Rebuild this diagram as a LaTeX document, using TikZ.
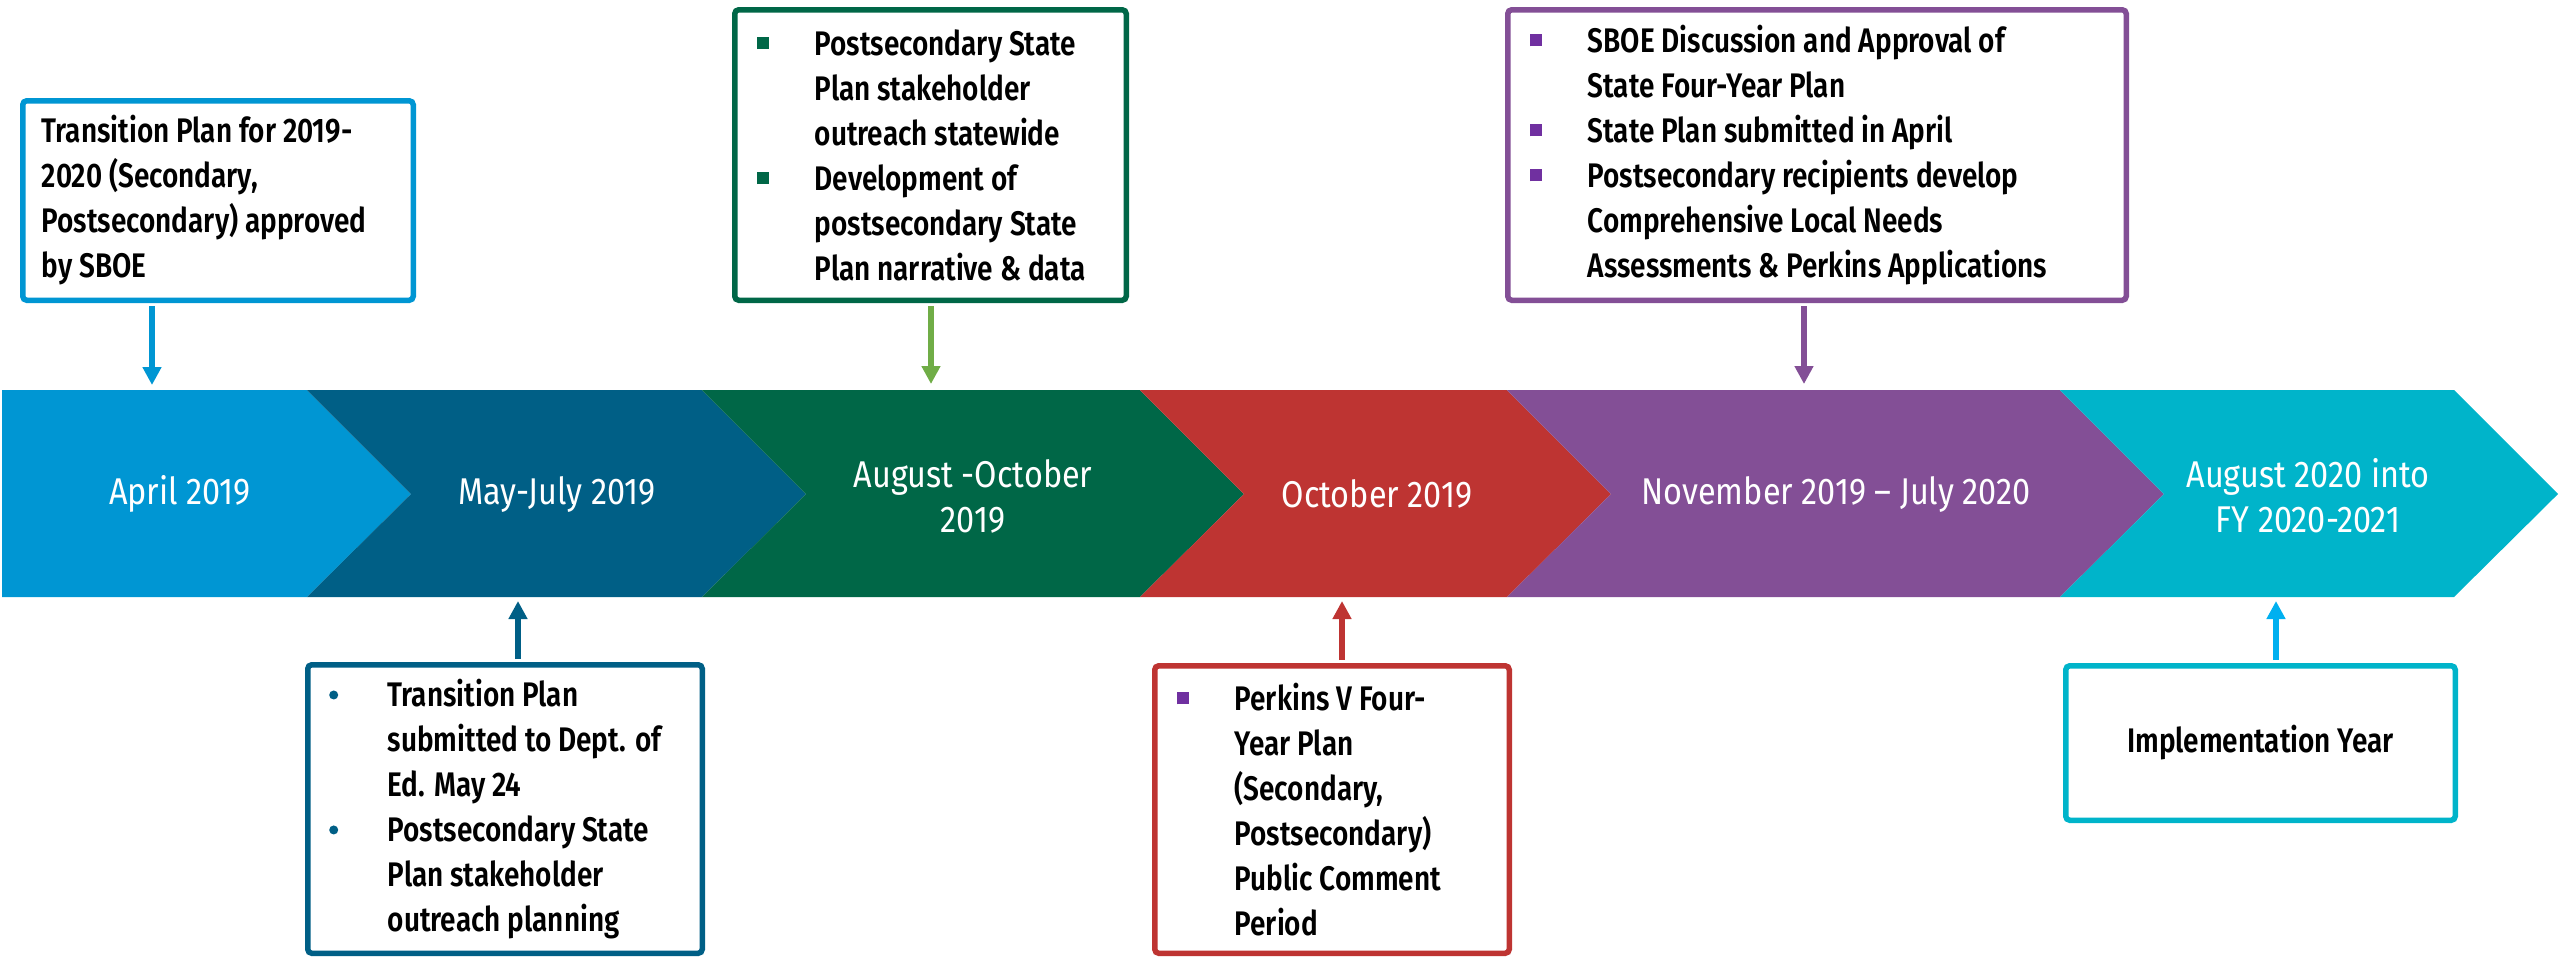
\documentclass[tikz,border=0pt]{standalone}
\usepackage{fontspec}
\setmainfont{Fira Sans}[FakeStretch=0.87]
\newfontfamily\boxfont{Fira Sans SemiBold}[FakeStretch=0.82]
\usetikzlibrary{arrows.meta}

\definecolor{aprblue}{RGB}{0,150,211}
\definecolor{mayblue}{RGB}{0,95,134}
\definecolor{auggreen}{RGB}{0,103,71}
\definecolor{octred}{RGB}{190,52,50}
\definecolor{novpurple}{RGB}{131,79,150}
\definecolor{fycyan}{RGB}{0,180,202}
\definecolor{leafgreen}{RGB}{112,173,71}
\definecolor{skyblue}{RGB}{0,176,240}
\definecolor{bulpurple}{RGB}{112,48,160}

\tikzset{
  phase/.style={text=white, align=center, font=\fontsize{10.6}{12.8}\selectfont},
  frame/.style={draw=#1, line width=0.55mm, rounded corners=0.4mm, fill=white},
  note/.style={anchor=west, align=left, inner sep=0pt, font=\boxfont\fontsize{9.7}{12.8}\selectfont},
  link/.style={draw=#1, line width=0.6mm, shorten <=0.3mm, -{Triangle[width=1.8mm,length=1.8mm]}}
}
\newcommand{\sqbul}[1]{\llap{\textcolor{#1}{\rule[0.6mm]{1.2mm}{1.2mm}}\hspace{4.6mm}}}
\newcommand{\dotbul}[1]{\llap{\tikz[baseline=0pt]\fill[#1] (0,1.15mm) circle (0.45mm);\hspace{4.95mm}}}

\begin{document}
\begin{tikzpicture}[x=0.1mm, y=-0.1mm]
    \useasboundingbox (0,0) rectangle (2560,959);
    % timeline band
    \fill[aprblue] (2,390) -- (307,390) -- (411,494) -- (307,597) -- (2,597) -- cycle;
    \fill[mayblue] (307,390) -- (702,390) -- (806,494) -- (702,597) -- (307,597) -- (411,494) -- cycle;
    \fill[auggreen] (702,390) -- (1140,390) -- (1244,494) -- (1140,597) -- (702,597) -- (806,494) -- cycle;
    \fill[octred] (1140,390) -- (1507,390) -- (1611,494) -- (1507,597) -- (1140,597) -- (1244,494) -- cycle;
    \fill[novpurple] (1507,390) -- (2060,390) -- (2164,494) -- (2060,597) -- (1507,597) -- (1611,494) -- cycle;
    \fill[fycyan] (2060,390) -- (2454,390) -- (2558,494) -- (2454,597) -- (2060,597) -- (2164,494) -- cycle;

    \node[phase] (apr) at (180,494) {April 2019};
    \node[phase] (may) at (557,494) {May-July 2019};
    \node[phase] (aug) at (973,496) {August -October\\2019};
    \node[phase] (oct) at (1377,494) {October 2019};
    \node[phase] (nov) at (1836,494) {November 2019 – July 2020};
    \node[phase] (fy) at (2308,496) {August 2020 into\\FY 2020-2021};

    % boxes above
    \node[frame=aprblue, minimum width=39.05mm, minimum height=19.95mm] (b1) at (218,200.5) {};
    \node[frame=auggreen, minimum width=39.15mm, minimum height=29.05mm] (b2) at (930.5,155) {};
    \node[frame=novpurple, minimum width=61.85mm, minimum height=29.05mm] (b3) at (1817,155) {};
    % boxes below
    \node[frame=mayblue, minimum width=39.45mm, minimum height=28.85mm] (b4) at (505,809) {};
    \node[frame=octred, minimum width=35.45mm, minimum height=28.75mm] (b5) at (1332,809.5) {};
    \node[frame=fycyan, minimum width=38.95mm, minimum height=15.45mm,
          font=\boxfont\fontsize{9.7}{12.8}\selectfont] (b6) at (2260.5,743) {Implementation Year};

    \node[note] (n1) at (41,200.5) {Transition Plan for 2019-\\2020 (Secondary,\\Postsecondary) approved\\by SBOE};
    \node[note] (n2) at (814,155) {\sqbul{auggreen}Postsecondary State\\Plan stakeholder\\outreach statewide\\
        \sqbul{auggreen}Development of\\postsecondary State\\Plan narrative \& data};
    \node[note] (n3) at (1587,155) {\sqbul{bulpurple}SBOE Discussion and Approval of\\State Four-Year Plan\\
        \sqbul{bulpurple}State Plan submitted in April\\\sqbul{bulpurple}Postsecondary recipients develop\\
        Comprehensive Local Needs\\Assessments \& Perkins Applications};
    \node[note] (n4) at (387,809) {\dotbul{mayblue}Transition Plan\\submitted to Dept. of\\Ed. May 24\\
        \dotbul{mayblue}Postsecondary State\\Plan stakeholder\\outreach planning};
    \node[note] (n5) at (1234,809.5) {\sqbul{bulpurple}Perkins V Four-\\Year Plan\\(Secondary,\\Postsecondary)\\Public Comment\\Period};

    % arrows to the timeline
    \coordinate (p1) at (152,385);
    \coordinate (p2) at (931,384);
    \coordinate (p3) at (1804,384);
    \coordinate (p4) at (518,601);
    \coordinate (p5) at (1342,601);
    \coordinate (p6) at (2276,601);
    \draw[link=aprblue] (b1.south -| p1) -- (p1);
    \draw[link=leafgreen] (b2.south -| p2) -- (p2);
    \draw[link=novpurple] (b3.south -| p3) -- (p3);
    \draw[link=mayblue] (b4.north -| p4) -- (p4);
    \draw[link=octred] (b5.north -| p5) -- (p5);
    \draw[link=skyblue] (b6.north -| p6) -- (p6);
\end{tikzpicture}
\end{document}
